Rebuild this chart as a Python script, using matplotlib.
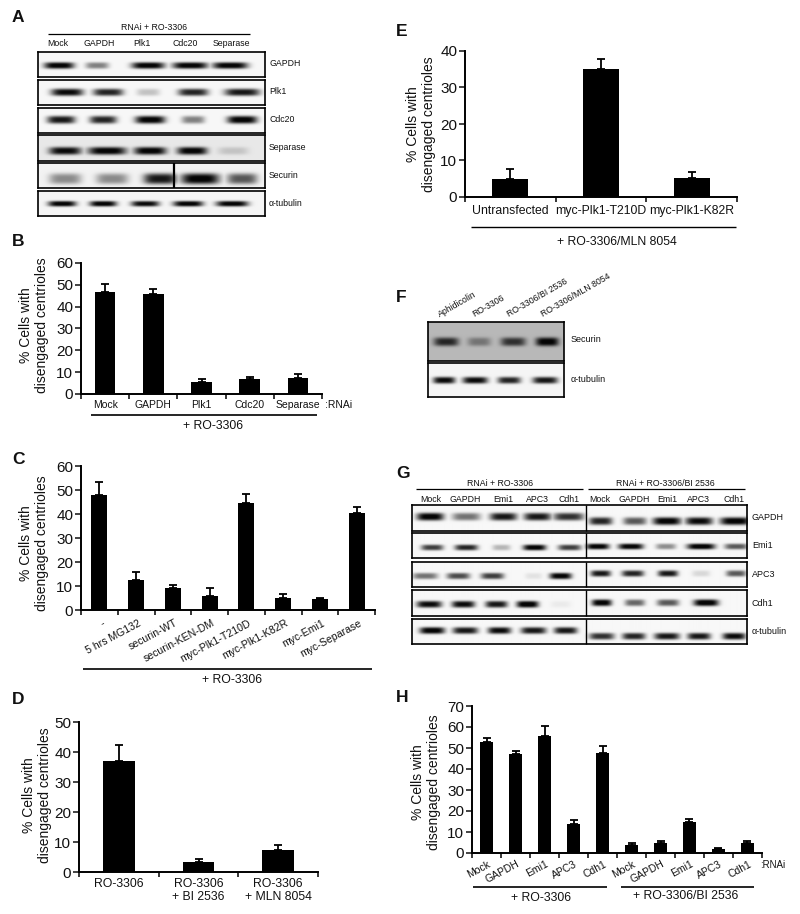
import numpy as np
import matplotlib
matplotlib.use("Agg")
import matplotlib.pyplot as plt

plt.rcParams["font.family"] = ["Liberation Sans", "DejaVu Sans"]

W, H = 800, 914

# ------------------------------------------
# bar chart values (bar height, top of error bar)
# ------------------------------------------
b_labels = ["Mock", "GAPDH", "Plk1", "Cdc20", "Separase"]
b_vals = [46.5, 46.0, 5.5, 6.8, 7.5]
b_tops = [50.5, 48.3, 6.7, 7.8, 9.0]

c_labels = ["-", "5 hrs MG132", "securin-WT", "securin-KEN-DM", "myc-Plk1-T210D",
            "myc-Plk1-K82R", "myc-Emi1", "myc-Separase"]
c_vals = [48.0, 12.7, 9.3, 6.0, 44.5, 5.0, 4.6, 40.5]
c_tops = [53.3, 16.0, 10.4, 9.0, 48.2, 6.6, 5.2, 43.0]

d_labels = ["RO-3306", "RO-3306\n+ BI 2536", "RO-3306\n+ MLN 8054"]
d_vals = [37.0, 3.2, 7.4]
d_tops = [42.5, 4.4, 9.0]

e_labels = ["Untransfected", "myc-Plk1-T210D", "myc-Plk1-K82R"]
e_vals = [4.9, 35.0, 5.1]
e_tops = [7.7, 37.8, 6.9]

h_labels = ["Mock", "GAPDH", "Emi1", "APC3", "Cdh1", "Mock", "GAPDH", "Emi1", "APC3", "Cdh1"]
h_vals = [52.7, 47.0, 55.5, 13.7, 47.8, 3.6, 5.0, 15.0, 1.8, 4.6]
h_tops = [55.0, 48.7, 60.7, 15.7, 51.0, 4.8, 5.6, 16.2, 2.2, 5.6]

# ------------------------------------------
# blot band strengths (0 = no band, 1 = black)
# ------------------------------------------
a_gapdh = [0.95, 0.45, 0.95, 0.95, 0.95]
a_plk1 = [0.90, 0.80, 0.20, 0.80, 0.85]
a_cdc20 = [0.85, 0.80, 0.95, 0.45, 0.95]
a_separase = [0.90, 0.95, 0.95, 0.95, 0.15]
a_securin = [0.40, 0.40, 0.85, 0.95, 0.60]
a_tubulin = [0.95, 0.95, 0.90, 0.95, 0.95]

f_securin = [0.75, 0.35, 0.70, 0.95]
f_tubulin = [0.90, 0.90, 0.80, 0.85]

g_gapdh = [0.95, 0.50, 0.85, 0.85, 0.75, 0.80, 0.60, 0.95, 0.90, 0.95]
g_emi1 = [0.70, 0.80, 0.25, 0.95, 0.70, 0.95, 0.95, 0.40, 0.98, 0.60]
g_apc3 = [0.50, 0.65, 0.70, 0.08, 0.95, 0.85, 0.80, 0.85, 0.12, 0.60]
g_cdh1 = [0.90, 0.90, 0.85, 0.98, 0.05, 0.95, 0.55, 0.60, 0.98, 0.00]
g_tubulin = [0.95, 0.85, 0.90, 0.85, 0.85, 0.75, 0.80, 0.85, 0.85, 0.90]

fig = plt.figure(figsize=(W / 100, H / 100), dpi=100, facecolor="white")


def ax_px(x0, y0, x1, y1):
    return fig.add_axes([x0 / W, 1 - y1 / H, (x1 - x0) / W, (y1 - y0) / H])


ov = fig.add_axes([0, 0, 1, 1], zorder=5)
ov.set_xlim(0, W)
ov.set_ylim(H, 0)
ov.axis("off")


def label(x, y, s, size=6, ha="left", va="center", **kw):
    ov.text(x, y, s, fontsize=size, ha=ha, va=va, color="#111111", **kw)


def rule(x0, x1, y, lw=1.0):
    ov.plot([x0, x1], [y, y], color="black", lw=lw, solid_capstyle="butt")


def bars(box, vals, tops, ymax, step, width, ylabel_x, ylabel_dy=0):
    ax = ax_px(*box)
    n = len(vals)
    x = np.arange(n)
    err = np.array(tops) - np.array(vals)
    ax.bar(x, vals, width=width, color="black")
    ax.errorbar(x, vals, yerr=[np.zeros(n), err], fmt="none", ecolor="black",
                elinewidth=1.3, capsize=2.6, capthick=1.3)
    ax.set_xlim(-0.5, n - 0.5)
    ax.set_ylim(0, ymax)
    ax.set_xticks(np.arange(n + 1) - 0.5)
    ax.set_xticklabels([])
    ax.set_yticks(np.arange(0, ymax + 1, step))
    ax.tick_params(axis="y", labelsize=11, length=4, width=1.1, pad=1.5, colors="#111111")
    ax.tick_params(axis="x", length=3.5, width=1.1)
    for s in ["top", "right"]:
        ax.spines[s].set_visible(False)
    for s in ["left", "bottom"]:
        ax.spines[s].set_linewidth(1.4)
    ym = (box[1] + box[3]) / 2 + ylabel_dy
    ov.text(ylabel_x, ym, "% Cells with\ndisengaged centrioles", rotation=90,
            fontsize=10, ha="center", va="center", linespacing=1.15,
            color="#111111", multialignment="center")
    return ax


def xlabels(ax, labels, dy, size=8, rot=0, dx=0, linespacing=1.15):
    for i, s in enumerate(labels):
        if rot:
            ax.annotate(s, xy=(i, 0), xycoords=("data", "axes fraction"), xytext=(dx, -dy),
                        textcoords="offset pixels", fontsize=size, rotation=rot, ha="right",
                        va="top", rotation_mode="anchor", color="#111111")
        else:
            ax.annotate(s, xy=(i, 0), xycoords=("data", "axes fraction"), xytext=(dx, -dy),
                        textcoords="offset pixels", fontsize=size, ha="center", va="top",
                        linespacing=linespacing, color="#111111")


def blot(box, strengths, lanes, widths, band_y, bg=0.97, thick=3.0):
    # lanes, widths in figure pixels, band_y as fraction of box height
    x0, y0, x1, y1 = box
    ax = ax_px(x0, y0, x1, y1)
    xs = np.arange(x0, x1, 0.5)
    ys = np.arange(y0, y1, 0.5)
    xx, yy = np.meshgrid(xs, ys)
    dark = np.zeros_like(xx)
    for i, s in enumerate(strengths):
        by = band_y[i] if np.ndim(band_y) else band_y
        cy = y0 + by * (y1 - y0)
        prof_x = np.exp(-np.abs((xx - lanes[i]) / (widths[i] / 2)) ** 4)
        prof_y = np.exp(-np.abs((yy - cy) / (thick * 1.2)) ** 3)
        dark = np.maximum(dark, s * prof_x * prof_y)
    img = bg - (bg - 0.02) * np.clip(dark * 1.1, 0, 1)
    ax.imshow(img, cmap="gray", vmin=0, vmax=1, extent=(x0, x1, y1, y0), aspect="auto",
              interpolation="bilinear")
    ax.set_xticks([])
    ax.set_yticks([])
    for s in ax.spines.values():
        s.set_linewidth(1.2)
        s.set_color("black")
    return ax


# ------------------------------------------
# A
# ------------------------------------------
label(12, 18, "A", size=12.5, fontweight="bold")
label(154, 27, "RNAi + RO-3306", size=6.3, ha="center")
rule(48, 250, 34, lw=0.9)
for cx, s in zip([58, 99, 142, 185, 231], ["Mock", "GAPDH", "Plk1", "Cdc20", "Separase"]):
    label(cx, 44, s, size=6.3, ha="center")

a_rows = [
    ("GAPDH", a_gapdh, (52, 77), [59, 97, 148, 190, 230], [30, 23, 33, 35, 35], 0.53, 0.97, 2.7),
    ("Plk1", a_plk1, (80, 105), [67, 108, 148, 193, 242], [32, 30, 23, 30, 35], 0.48, 0.97, 3.0),
    ("Cdc20", a_cdc20, (108, 133), [61, 103, 150, 193, 242], [28, 27, 30, 23, 30], 0.46, 0.97, 3.2),
    ("Separase", a_separase, (135, 161), [65, 107, 150, 192, 233], [32, 38, 32, 30, 30], 0.6, 0.91, 3.2),
    ("Securin", a_securin, (163, 188), [65, 112, 160, 200, 242], [32, 32, 33, 38, 30], 0.62, 0.95, 4.5),
    ("\u03b1-tubulin", a_tubulin, (191, 216), [62, 103, 145, 188, 232], [28, 27, 28, 30, 32], 0.5, 0.96, 2.3),
]
for name, vals, (y0, y1), lanes, widths, by, bg, th in a_rows:
    blot((38, y0, 265, y1), vals, lanes, widths, by, bg, th)
    label(269, (y0 + y1) / 2 - 0.5, name, size=6.3)
ov.plot([174, 174], [163, 188], color="black", lw=1.6, solid_capstyle="butt")

# ------------------------------------------
# B
# ------------------------------------------
label(12, 242, "B", size=12.5, fontweight="bold")
ax_b = bars((81, 263, 322, 394), b_vals, b_tops, 60, 10, 0.43, 34, -3)
xlabels(ax_b, b_labels, 6, size=7.5)
rule(91, 317, 415, lw=1.2)
label(213, 426, "+ RO-3306", size=8.8, ha="center")
label(325, 405, ":RNAi", size=7.5)

# ------------------------------------------
# C
# ------------------------------------------
label(12, 459, "C", size=12.5, fontweight="bold")
ax_c = bars((81, 466, 375, 610), c_vals, c_tops, 60, 10, 0.44, 34, 5)
xlabels(ax_c, c_labels, 8, size=7.6, rot=28, dx=2)
rule(83, 372, 669, lw=1.2)
label(232, 680, "+ RO-3306", size=8.8, ha="center")

# ------------------------------------------
# D
# ------------------------------------------
label(12, 700, "D", size=12.5, fontweight="bold")
ax_d = bars((79, 722, 318, 872), d_vals, d_tops, 50, 10, 0.4, 37, -2)
xlabels(ax_d, d_labels, 6, size=8.8)

# ------------------------------------------
# E
# ------------------------------------------
label(396, 32, "E", size=12.5, fontweight="bold")
ax_e = bars((465, 51, 737, 197), e_vals, e_tops, 40, 10, 0.4, 421)
xlabels(ax_e, e_labels, 8, size=8.8)
rule(471, 736, 227, lw=1.0)
label(617, 242, "+ RO-3306/MLN 8054", size=8.8, ha="center")

# ------------------------------------------
# F
# ------------------------------------------
label(396, 297, "F", size=12.5, fontweight="bold")
for sx, s in zip([441, 475, 510, 544], ["Aphidicolin", "RO-3306", "RO-3306/BI 2536", "RO-3306/MLN 8054"]):
    ov.text(sx, 319, s, fontsize=6.3, rotation=30, ha="left", va="bottom",
            rotation_mode="anchor", color="#111111")
blot((428, 322, 564, 361), f_securin, [446, 479, 513, 547], [25, 23, 25, 23], 0.5, 0.72, 3.6)
blot((428, 363, 564, 397), f_tubulin, [444, 475, 509, 545], [22, 25, 23, 25], 0.5, 0.96, 2.8)
label(571, 339, "Securin", size=6.5)
label(571, 379, "\u03b1-tubulin", size=6.5)

# ------------------------------------------
# G
# ------------------------------------------
label(396, 474, "G", size=12.5, fontweight="bold")
label(500, 483, "RNAi + RO-3306", size=6.3, ha="center")
label(665, 483, "RNAi + RO-3306/BI 2536", size=6.3, ha="center")
rule(416, 583, 489, lw=0.9)
rule(588, 745, 489, lw=0.9)
g_heads = [431, 465, 503, 537, 569, 600, 634, 667, 698, 734]
for cx, s in zip(g_heads, h_labels):
    label(cx, 499, s, size=6.3, ha="center")

g_rows = [
    ("GAPDH", g_gapdh, (505, 531),
     [430, 466, 503, 537, 568, 600, 634, 666, 698, 734],
     [27, 28, 27, 27, 30, 23, 23, 28, 27, 30], [0.44] * 5 + [0.61] * 5, 3.2),
    ("Emi1", g_emi1, (533, 558),
     [432, 466, 501, 534, 569, 597, 630, 665, 700, 735],
     [22, 23, 18, 23, 23, 23, 25, 20, 28, 23], [0.57] * 5 + [0.53] * 5, 2.4),
    ("APC3", g_apc3, (562, 587),
     [425, 458, 492, 533, 560, 600, 632, 667, 700, 735],
     [25, 23, 23, 17, 22, 20, 22, 20, 18, 20], [0.55] * 5 + [0.45] * 5, 2.6),
    ("Cdh1", g_cdh1, (590, 616),
     [429, 463, 496, 527, 560, 601, 634, 667, 705, 735],
     [25, 23, 22, 22, 20, 20, 20, 22, 25, 17], [0.54] * 5 + [0.48] * 5, 2.8),
    ("\u03b1-tubulin", g_tubulin, (619, 644),
     [432, 465, 499, 533, 565, 601, 633, 666, 698, 733],
     [25, 25, 23, 25, 23, 25, 23, 25, 23, 23], [0.45] * 5 + [0.68] * 5, 2.8),
]
for name, vals, (y0, y1), lanes, widths, by, th in g_rows:
    blot((412, y0, 747, y1), vals, lanes, widths, by, 0.97, th)
    label(752, (y0 + y1) / 2, name, size=6.5)
    ov.plot([586, 586], [y0, y1], color="black", lw=1.0, solid_capstyle="butt")

# ------------------------------------------
# H
# ------------------------------------------
label(396, 698, "H", size=12.5, fontweight="bold")
ax_h = bars((472, 706, 762, 853), h_vals, h_tops, 70, 10, 0.46, 426, 3)
xlabels(ax_h, h_labels, 6, size=7.5, rot=28, dx=1)
rule(473, 607, 887, lw=1.2)
rule(621, 754, 887, lw=1.2)
label(541, 898, "+ RO-3306", size=8.8, ha="center")
label(686, 896, "+ RO-3306/BI 2536", size=8.8, ha="center")
label(760, 865, ":RNAi", size=7)

fig.savefig("out.png", dpi=100, facecolor="white")
